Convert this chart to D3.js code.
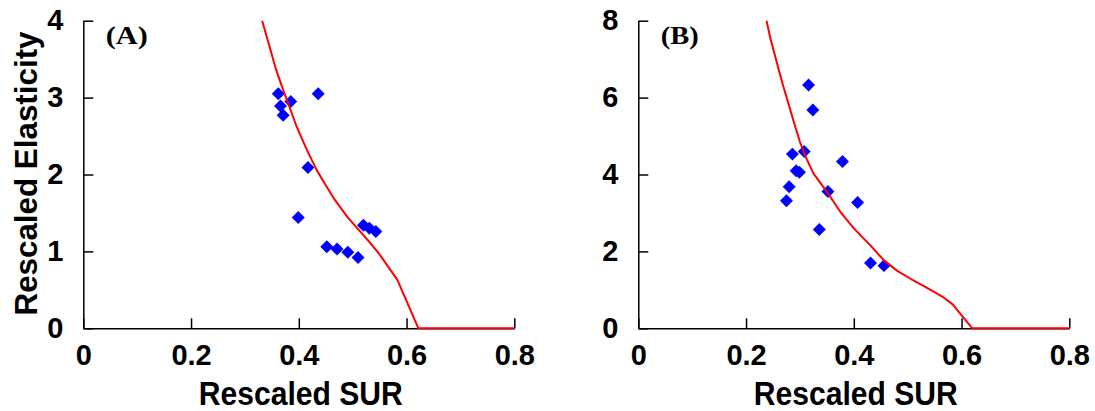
<!DOCTYPE html>
<html>
<head>
<meta charset="utf-8">
<script src="https://cdn.jsdelivr.net/npm/d3@7"></script>
<style>
  html, body { margin: 0; padding: 0; background: #fff; }
  svg { display: block; }
  .tick text { font-family: "Liberation Sans", Arial, sans-serif; font-weight: bold; font-size: 29px; fill: #000; }
</style>
</head>
<body>
<svg id="chart" width="1095" height="411"></svg>
<script>
// ---------- data ----------
const xTicks = [0, 0.2, 0.4, 0.6, 0.8];
const yTicksA = [0, 1, 2, 3, 4];
const yTicksB = [0, 2, 4, 6, 8];
const xTitle = "Rescaled SUR";
const yTitle = "Rescaled Elasticity";
const panelLabels = ["(A)", "(B)"];

// Panel A observations
const surA = [0.362, 0.385, 0.366, 0.371, 0.436, 0.417, 0.399, 0.520, 0.531, 0.543, 0.452, 0.471, 0.491, 0.510];
const elasA = [3.05, 2.95, 2.89, 2.77, 3.05, 2.09, 1.44, 1.34, 1.30, 1.26, 1.06, 1.03, 0.99, 0.92];
// Panel A model curve
const fitSurA = [0.332, 0.345, 0.358, 0.370, 0.380, 0.395, 0.415, 0.433, 0.450, 0.465, 0.490, 0.510, 0.530, 0.550, 0.568, 0.583, 0.622, 0.800];
const fitElasA = [4.00, 3.68, 3.36, 3.12, 2.93, 2.64, 2.32, 2.06, 1.86, 1.69, 1.45, 1.29, 1.13, 0.96, 0.78, 0.63, 0.00, 0.00];

// Panel B observations
const surB = [0.316, 0.324, 0.286, 0.308, 0.379, 0.293, 0.299, 0.280, 0.275, 0.352, 0.407, 0.336, 0.431, 0.456];
const elasB = [6.33, 5.68, 4.53, 4.60, 4.34, 4.10, 4.06, 3.68, 3.32, 3.56, 3.27, 2.57, 1.70, 1.63];
// Panel B model curve
const fitSurB = [0.238, 0.245, 0.256, 0.268, 0.280, 0.290, 0.300, 0.312, 0.325, 0.350, 0.375, 0.400, 0.430, 0.455, 0.480, 0.510, 0.540, 0.565, 0.583, 0.620, 0.800];
const fitElasB = [8.00, 7.55, 6.97, 6.35, 5.78, 5.30, 4.85, 4.42, 4.03, 3.55, 3.03, 2.60, 2.17, 1.78, 1.50, 1.25, 1.02, 0.82, 0.63, 0.00, 0.00];

// ---------- drawing ----------
const svg = d3.select("#chart");
svg.append("rect").attr("width", 1095).attr("height", 411).attr("fill", "#fff");

const plotTop = 20.7, plotBottom = 328.3, plotWidth = 431;

function panel(x0, yTicks, sur, elas, fitSur, fitElas, label, showYTitle) {
  const x = d3.scaleLinear().domain([0, 0.8]).range([x0, x0 + plotWidth]);
  const y = d3.scaleLinear().domain([0, yTicks[yTicks.length - 1]]).range([plotBottom, plotTop]);

  const gx = svg.append("g").attr("transform", `translate(0,${plotBottom})`)
    .call(d3.axisBottom(x).tickValues(xTicks).tickFormat(d => d === 0 ? "0" : d3.format(".1f")(d))
      .tickSizeInner(-10).tickSizeOuter(0).tickPadding(16));
  const gy = svg.append("g").attr("transform", `translate(${x0},0)`)
    .call(d3.axisLeft(y).tickValues(yTicks).tickFormat(d3.format("d"))
      .tickSizeInner(-10).tickSizeOuter(0).tickPadding(20));
  [gx, gy].forEach(g => {
    g.selectAll("path.domain, .tick line").attr("stroke", "#000").attr("stroke-width", 1.5);
    g.selectAll(".tick text").attr("font-family", null).attr("font-size", null);
  });

  // points
  const pts = sur.map((s, i) => ({ s, e: elas[i] }));
  svg.append("g").selectAll("path").data(pts).join("path")
    .attr("d", d3.symbol(d3.symbolSquare).size(84))
    .attr("transform", d => `translate(${x(d.s)},${y(d.e)}) rotate(45)`)
    .attr("fill", "#0000ff");

  // model curve
  const curve = fitSur.map((s, i) => [s, fitElas[i]]);
  svg.append("path").datum(curve)
    .attr("d", d3.line().x(d => x(d[0])).y(d => y(d[1])))
    .attr("fill", "none").attr("stroke", "#ff0000").attr("stroke-width", 2)
    .attr("stroke-linejoin", "round");

  // panel label
  svg.append("text").attr("x", x0 + 22.5).attr("y", 44)
    .attr("font-family", "'Liberation Serif', 'Times New Roman', serif")
    .attr("font-weight", "bold").attr("font-size", 26)
    .attr("textLength", label === "(A)" ? 42 : 38).attr("lengthAdjust", "spacingAndGlyphs")
    .text(label);

  // x title
  svg.append("text").attr("x", x0 + plotWidth / 2 + 2).attr("y", 405)
    .attr("text-anchor", "middle")
    .attr("font-family", "'Liberation Sans', Arial, sans-serif")
    .attr("font-weight", "bold").attr("font-size", 34)
    .attr("textLength", 204).attr("lengthAdjust", "spacingAndGlyphs")
    .text(xTitle);

  if (showYTitle) {
    svg.append("text")
      .attr("transform", `translate(37,${(plotTop + plotBottom) / 2 - 1}) rotate(-90)`)
      .attr("text-anchor", "middle")
      .attr("font-family", "'Liberation Sans', Arial, sans-serif")
      .attr("font-weight", "bold").attr("font-size", 32)
      .attr("textLength", 284).attr("lengthAdjust", "spacingAndGlyphs")
      .text(yTitle);
  }
}

panel(83.3, yTicksA, surA, elasA, fitSurA, fitElasA, panelLabels[0], true);
panel(638.3, yTicksB, surB, elasB, fitSurB, fitElasB, panelLabels[1], false);
</script>
</body>
</html>
